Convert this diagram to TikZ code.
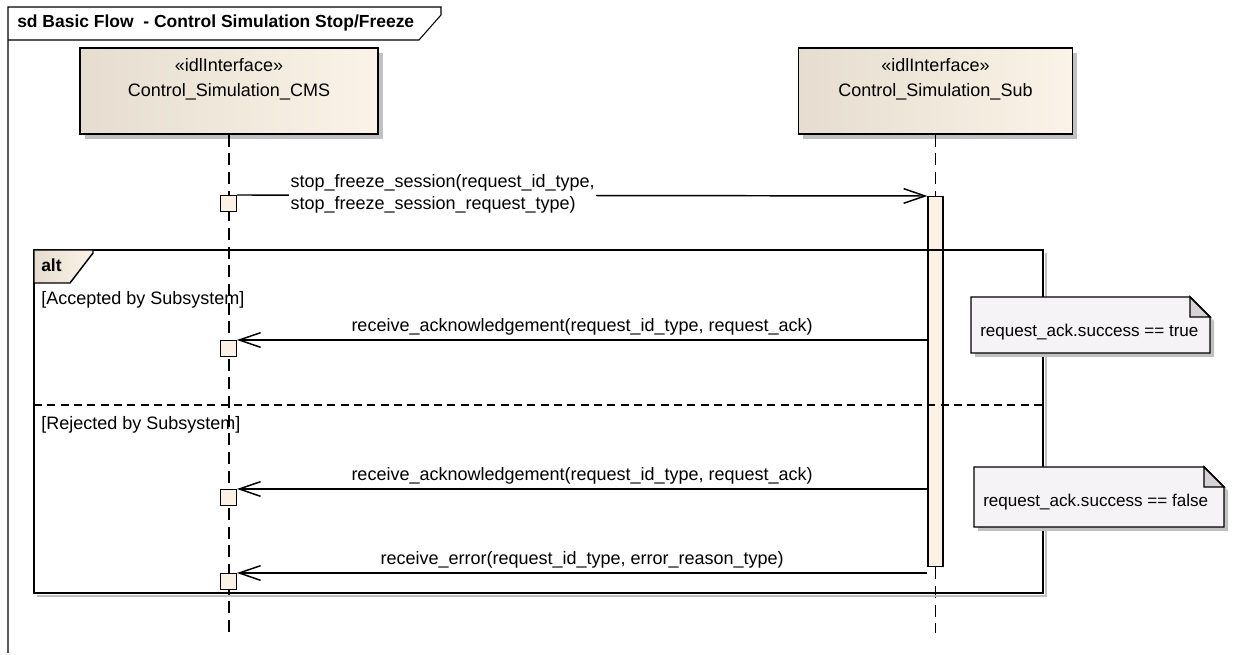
\documentclass[tikz,border=0pt]{standalone}
\usepackage{fontspec}
\setmainfont{Liberation Sans}
\usetikzlibrary{arrows.meta, positioning, shadows, calc}

\definecolor{boxleft}{RGB}{230,221,208}
\definecolor{boxright}{RGB}{251,243,231}
\definecolor{actfill}{RGB}{251,241,228}
\definecolor{notefill}{RGB}{246,243,246}
\definecolor{earfill}{RGB}{214,210,214}
\definecolor{shadowgray}{RGB}{192,192,192}

\tikzset{
  lifebox/.style={draw, line width=1.2pt, left color=boxleft, right color=boxright, minimum height=64.5pt, inner sep=0pt,
    drop shadow={shadow xshift=3.5pt, shadow yshift=-3.5pt, fill=shadowgray, opacity=1}},
  lifeline/.style={line width=1.1pt, dash pattern=on 9pt off 5pt},
  actbox/.style={draw, line width=1.1pt, fill=actfill, minimum width=12pt, minimum height=12pt, inner sep=0pt, anchor=north east},
  msg/.style={line width=1.1pt, -{Straight Barb[length=16pt, width=11pt]}},
  txt/.style={font=\fontsize{13.5}{16.5}\selectfont, inner sep=0pt},
  notetxt/.style={font=\fontsize{12.8}{15}\selectfont, inner sep=0pt},
  boldtxt/.style={font=\fontsize{13.1}{16}\selectfont\bfseries, inner sep=0pt},
  notebox/.style={draw, line width=1.1pt, fill=notefill, drop shadow={shadow xshift=3pt, shadow yshift=-3pt, fill=shadowgray, opacity=1}},
}

\begin{document}
\begin{tikzpicture}[x=0.75pt, y=-0.75pt]
\useasboundingbox (0,0) rectangle (1247,655);

% Diagram frame and title tab
\draw[line width=0.8pt] (8,653) -- (8,7) -- (441,7) -- (441,15) -- (419,40) -- (8,40);
\node[boldtxt, anchor=west] (title) at (17,23) {sd Basic Flow\ \ - Control Simulation Stop/Freeze};

% Lifeline heads
\node[lifebox, minimum width=223.5pt] (cms) at (229,91) {};
\node[txt] (cmsstereo) at (229,65) {«idlInterface»};
\node[txt] (cmsname) at (229,92) {Control\_Simulation\_CMS};

\node[lifebox, minimum width=205.5pt] (sub) at (935.5,91) {};
\node[txt] (substereo) at (935.5,65) {«idlInterface»};
\node[txt] (subname) at (935.5,92) {Control\_Simulation\_Sub};

\coordinate (cmsend) at (229,633);
\coordinate (subend) at (935.5,633);

% Activation on Sub
\node[draw, line width=1.1pt, fill=actfill, minimum width=11.25pt, minimum height=277.5pt, inner sep=0pt, anchor=north] (subact) at (935.5,196) {};

% Lifelines
\draw[lifeline] (cms.south) -- (cmsend);
\draw[lifeline] (sub.south) -- (subact.north);
\draw[lifeline] (subact.south) -- (subend);

% alt fragment
\draw[shadowgray, line width=1.4pt] (37,596) -- (1046,596) -- (1046,253);
\draw[line width=1.4pt] (34,250) rectangle (1043,593);
\draw[line width=1.1pt, left color=boxleft, right color=boxright] (34,250) -- (93,250) -- (93,253) -- (70,283) -- (34,283) -- cycle;
\node[boldtxt, anchor=west] (altlbl) at (41,265) {alt};
\draw[line width=0.8pt, dash pattern=on 6pt off 4pt] (34,405) -- (1043,405);
\node[txt, anchor=west] (guard1) at (41,300) {[Accepted by Subsystem]};
\node[txt, anchor=west] (guard2) at (41,425) {[Rejected by Subsystem]};

% Notes
\draw[notebox] (971,297) -- (1190,297) -- (1210,317) -- (1210,353) -- (971,353) -- cycle;
\draw[line width=1.1pt, fill=earfill] (1190,297) -- (1190,317) -- (1210,317) -- cycle;
\node[notetxt, anchor=west] (note1) at (980,332) {request\_ack.success == true};

\draw[notebox] (974,467) -- (1204,467) -- (1224,487) -- (1224,527) -- (974,527) -- cycle;
\draw[line width=1.1pt, fill=earfill] (1204,467) -- (1204,487) -- (1224,487) -- cycle;
\node[notetxt, anchor=west] (note2) at (983,502) {request\_ack.success == false};

% Execution boxes on CMS
\node[actbox] (act1) at (237,195) {};
\node[actbox] (act2) at (237,340) {};
\node[actbox] (act3) at (237,489) {};
\node[actbox] (act4) at (237,573) {};

% Messages
\draw[msg] (act1.north east) -- (subact.north west);
\node[txt, fill=white, align=left, anchor=west, inner sep=1pt] (msg1) at (289,194)
  {stop\_freeze\_session(request\_id\_type,\\stop\_freeze\_session\_request\_type)};

\draw[msg] (subact.west |- act2.north) -- node[txt, midway, above=3pt] (msg2) {receive\_acknowledgement(request\_id\_type, request\_ack)} (act2.north east);
\draw[msg] (subact.west |- act3.north) -- node[txt, midway, above=3pt] (msg3) {receive\_acknowledgement(request\_id\_type, request\_ack)} (act3.north east);
\draw[msg] (subact.west |- act4.north) -- node[txt, midway, above=3pt] (msg4) {receive\_error(request\_id\_type, error\_reason\_type)} (act4.north east);

\end{tikzpicture}
\end{document}
